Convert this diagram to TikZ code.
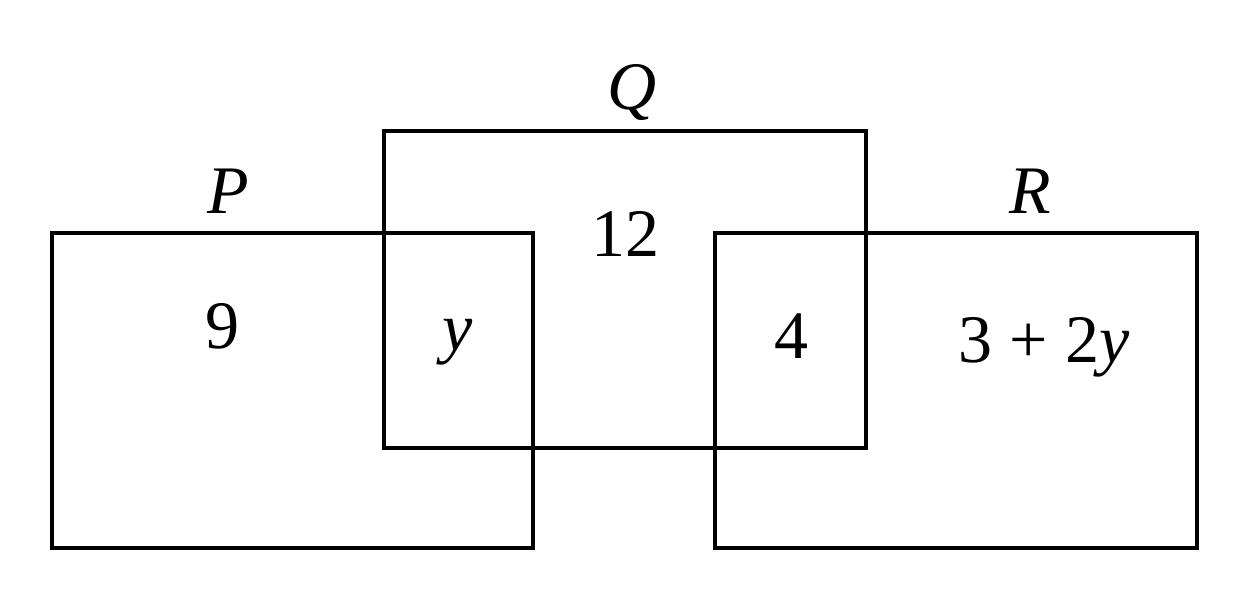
\documentclass[tikz,border=0pt]{standalone}
\usepackage{fontspec}
\setmainfont{Liberation Serif}
\begin{document}
\begin{tikzpicture}[x=1pt,y=-1pt,
  setbox/.style={draw=black, line width=4pt, inner sep=0pt, fill=none},
  lab/.style={font=\fontsize{68}{80}\selectfont, inner sep=0pt, anchor=base}]
\useasboundingbox (0,0) rectangle (1251,596);
\node[setbox, minimum width=481pt, minimum height=315pt] (Pbox) at (292.5,390.5) {};
\node[setbox, minimum width=482pt, minimum height=317pt] (Qbox) at (625,289.5) {};
\node[setbox, minimum width=482pt, minimum height=315pt] (Rbox) at (956,390.5) {};
\node[lab] (Plab) at (228,214) {\textit{P}};
\node[lab] (Qlab) at (632,110) {\textit{Q}};
\node[lab] (Rlab) at (1030,214) {\textit{R}};
\node[lab] (n12) at (625,257) {12};
\node[lab] (n9) at (222,348) {9};
\node[lab] (ny) at (458,350) {\textit{y}};
\node[lab] (n4) at (791,358) {4};
\node[lab] (n3) at (1044,362) {3 + 2\textit{y}};
\end{tikzpicture}
\end{document}
